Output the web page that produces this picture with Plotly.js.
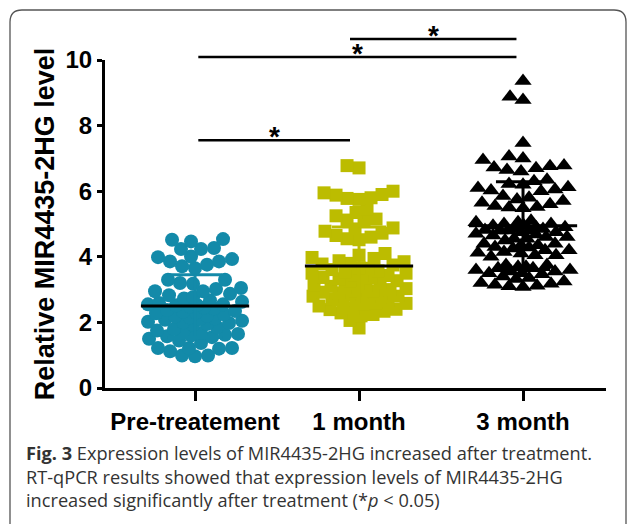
<!DOCTYPE html>
<html><head><meta charset="utf-8">
<script src="https://cdn.plot.ly/plotly-3.0.1.min.js"></script>
<style>html,body{margin:0;padding:0;background:#fff}#chart{width:627px;height:525px}</style>
</head><body><div id="chart"></div>
<script>
const categories = ['Pre-treatement', '1 month', '3 month'];
const preValues = [4.54,4.47,4.24,4.24,4.27,4.52, 4.01,3.99,3.93,3.86,3.86,3.76,3.71,3.65,
  3.3,3.18,3.02,2.95,2.95,3.05,3.2,3.3, 2.87,2.83,2.77,2.73,2.67,2.63,2.59,2.55,2.53,
  2.55,2.52,2.48,2.45,2.42,2.38,2.35,2.32,2.3,2.28,2.25, 2.2,2.18,2.15,2.12,2.1,2.08,2.05,2.02,2.0,1.98,1.95,1.92,
  1.85,1.8,1.75,1.7,1.68,1.65,1.62,1.6,1.55,1.58,1.5,1.45, 1.37,1.22,1.2,0.99,0.97,0.99,1.12,1.22,1.22];
const month1Values = [6.78,6.71, 5.95,5.9,5.8,5.75,5.78,5.88,6.0, 5.45,5.25,5.12,5.08,5.15,5.35,
  4.85,4.72,4.6,4.52,4.55,4.65,4.78,4.88, 4.1,3.98,3.88,3.8,3.75,3.78,3.85,3.95,4.05,
  3.67,3.61,3.55,3.5,3.45,3.4,3.35,3.33,3.37,3.43,3.5,3.57,3.65,
  3.27,3.21,3.15,3.1,3.05,3.0,2.95,2.92,2.9,2.95,3.03,3.1,3.17,3.25,
  2.9,2.85,2.8,2.75,2.7,2.65,2.6,2.56,2.58,2.64,2.72,2.8,2.88,
  2.34,2.24,1.83,2.06,2.29,2.39,2.45,2.5,2.2,2.4];
const month3Values = [9.36,8.88,8.78,7.47, 7.0,6.95,7.06,6.78,6.72,6.65,6.6,6.7,6.76,
  6.3,6.2,6.1,6.02,6.0,6.05,6.12,6.22,6.35, 5.85,5.75,5.65,5.55,5.5,5.48,5.52,5.6,5.7,5.8,
  5.1,5.05,5.0,4.95,4.9,4.85,4.82,4.8,4.85,4.9,4.95,5.0,5.05,
  4.8,4.75,4.7,4.65,4.6,4.55,4.5,4.55,4.6,4.68,4.75,4.8,
  4.4,4.35,4.3,4.25,4.2,4.15,4.1,4.05,4.0,4.05,4.12,4.2,4.28,4.35,4.4,
  3.75,3.7,3.65,3.6,3.55,3.5,3.47,3.5,3.55,3.6,3.65,3.7,3.75,
  3.4,3.32,3.2,3.15,3.1,3.08,3.12,3.18,3.25,3.35];
const sigFrom = [0, 0, 1];
const sigTo = [1, 2, 2];
const sigLevel = [7.55, 10.09, 10.64];
const sigLabel = ['*', '*', '*'];
const yTickVals = [0, 2, 4, 6, 8, 10];
const yTitle = 'Relative MIR4435-2HG level';
const captionLines = [
  '<b>Fig. 3</b> Expression levels of MIR4435-2HG increased after treatment.',
  'RT-qPCR results showed that expression levels of MIR4435-2HG',
  'increased significantly after treatment (*<i>p</i> &lt; 0.05)'
];

const groups = [
  {values: preValues, color: '#138aa9', symbol: 'circle', size: 14},
  {values: month1Values, color: '#bcbc00', symbol: 'square', size: 13},
  {values: month3Values, color: '#000000', symbol: 'triangle-up', size: 15}
];

const W = 627, H = 525, M = {l: 105, r: 21, t: 60, b: 137};
const XR = [-0.549, 2.506], YR = [0, 10];
const plotW = W - M.l - M.r, plotH = H - M.t - M.b;
const pxPerX = plotW / (XR[1] - XR[0]);
const pxPerY = plotH / (YR[1] - YR[0]);
const xp = px => (px - M.l) / plotW;
const yp = py => (H - M.b - py) / plotH;
const xToPaper = x => (x - XR[0]) / (XR[1] - XR[0]);
const yToPaper = y => (y - YR[0]) / (YR[1] - YR[0]);

function swarm(values, center, d, halfW) {
  const sorted = values.slice().sort((a, b) => a - b);
  const placed = [];
  const minSep = d * 0.88;
  sorted.forEach(v => {
    const vy = v * pxPerY;
    let best = null, bestCost = Infinity;
    for (let off = -halfW; off <= halfW; off += 1) {
      let minD = Infinity;
      for (const p of placed) {
        const dy = Math.abs(p.py - vy);
        if (dy >= minSep) continue;
        const dd = Math.hypot(p.px - off, dy);
        if (dd < minD) minD = dd;
      }
      const cost = (minD >= minSep ? 0 : 1000 + (minSep - minD) * 10) + Math.abs(off);
      if (cost < bestCost) { bestCost = cost; best = off; }
    }
    placed.push({px: best, py: vy, v: v});
  });
  return {x: placed.map(p => center + p.px / pxPerX), y: placed.map(p => p.v)};
}

const traces = [];
const meanHalf = 0.33, capHalf = 0.165;
groups.forEach((g, i) => {
  const s = swarm(g.values, i, g.size, 47);
  traces.push({type: 'scatter', mode: 'markers', x: s.x, y: s.y, cliponaxis: false,
    marker: {symbol: g.symbol, size: g.size, color: g.color, line: {width: 0}}, hoverinfo: 'y'});
  const n = g.values.length;
  const m = g.values.reduce((a, b) => a + b, 0) / n;
  const sd = Math.sqrt(g.values.reduce((a, b) => a + (b - m) * (b - m), 0) / (n - 1));
  traces.push({type: 'scatter', mode: 'lines', cliponaxis: false, hoverinfo: 'skip',
    x: [i - capHalf, i + capHalf, null, i, i, null, i - capHalf, i + capHalf],
    y: [m + sd, m + sd, null, m - sd, m + sd, null, m - sd, m - sd],
    line: {color: g.color, width: 3}});
  traces.push({type: 'scatter', mode: 'lines', cliponaxis: false, hoverinfo: 'skip',
    x: [i - meanHalf, i + meanHalf], y: [m, m], line: {color: '#000', width: 3}});
});

const shapes = [];
const annotations = [];
sigFrom.forEach((f, k) => {
  const x0 = f === 0 ? f + 0.02 : f - 0.055;
  const x1 = sigTo[k] === 1 ? sigTo[k] - 0.055 : sigTo[k] - 0.04;
  shapes.push({type: 'line', xref: 'paper', yref: 'paper',
    x0: xToPaper(x0), x1: xToPaper(x1), y0: yToPaper(sigLevel[k]), y1: yToPaper(sigLevel[k]),
    line: {color: '#000', width: 2.5}});
  annotations.push({xref: 'paper', yref: 'paper', x: xToPaper((x0 + x1) / 2), y: yToPaper(sigLevel[k]),
    text: sigLabel[k], showarrow: false, xanchor: 'center', yanchor: 'middle', yshift: 4,
    font: {family: 'Liberation Sans, Arial', size: 28, weight: 'bold', color: '#000'}});
});

// rounded frame
const P = (px, py) => xp(px) + ',' + yp(py);
shapes.push({type: 'path', xref: 'paper', yref: 'paper', layer: 'below',
  path: 'M' + P(10, 524) + ' L' + P(10, 22) + ' Q' + P(10, 10) + ' ' + P(22, 10) +
    ' L' + P(614, 10) + ' Q' + P(626, 10) + ' ' + P(626, 22) + ' L' + P(626, 524),
  line: {color: '#555555', width: 1.3}});

annotations.push({xref: 'paper', yref: 'paper', x: xp(24), y: yp(439), xanchor: 'left', yanchor: 'top',
  align: 'left', showarrow: false, text: captionLines.join('<br>'),
  font: {family: 'Open Sans', size: 18.2, color: '#333333'}});

const axisFont = {family: 'Liberation Sans, Arial', size: 24, weight: 'bold', color: '#000'};
const layout = {
  width: W, height: H, margin: M, showlegend: false,
  paper_bgcolor: '#fff', plot_bgcolor: '#fff',
  xaxis: {range: XR, tickvals: [0, 1, 2], ticktext: categories, showline: true, linewidth: 3, linecolor: '#000',
    ticks: 'outside', ticklen: 10, tickwidth: 3, tickcolor: '#000', showgrid: false, zeroline: false,
    tickfont: axisFont, fixedrange: true},
  yaxis: {range: YR, tickvals: yTickVals, showline: true, linewidth: 3, linecolor: '#000',
    ticks: 'outside', ticklen: 5, tickwidth: 3, tickcolor: '#000', showgrid: false, zeroline: false,
    tickfont: axisFont, fixedrange: true,
    title: {text: yTitle, font: {family: 'Liberation Sans, Arial', size: 27, weight: 'bold', color: '#000'}, standoff: 4}},
  shapes: shapes, annotations: annotations
};
Plotly.newPlot('chart', traces, layout, {displayModeBar: false, staticPlot: true});
</script></body></html>
